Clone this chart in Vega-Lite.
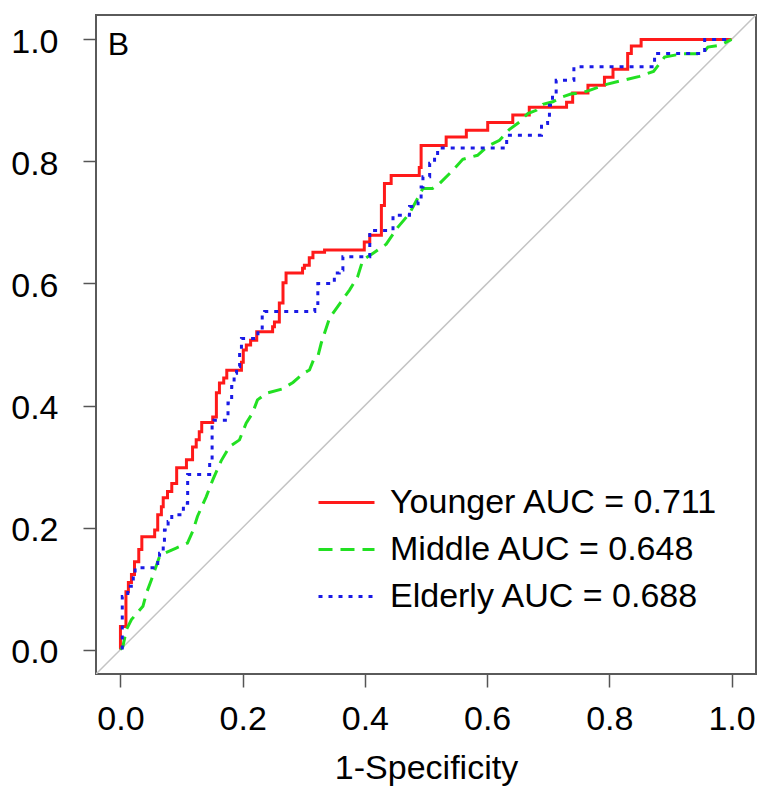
{
  "$schema": "https://vega.github.io/schema/vega-lite/v6.json",
  "width": 660,
  "height": 659,
  "autosize": {"type": "none"},
  "padding": {"left": 96, "top": 15, "right": 4, "bottom": 115},
  "background": "white",
  "config": {
    "view": {"stroke": "#5a5a5a", "strokeWidth": 2},
    "font": "Liberation Sans"
  },
  "datasets": {
    "groups": [
      {"g": "Y", "name": "Younger AUC = 0.711"},
      {"g": "M", "name": "Middle AUC = 0.648"},
      {"g": "E", "name": "Elderly AUC = 0.688"}
    ],
    "diag": [{"x": -0.1, "y": -0.1}, {"x": 1.1, "y": 1.1}],
    "panel": [{"label": "B"}],
    "roc": [
      {"g":"Y","x":0,"y":0},{"g":"Y","x":0,"y":0.038},{"g":"Y","x":0.009,"y":0.038},{"g":"Y","x":0.009,"y":0.095},{"g":"Y","x":0.013,"y":0.095},{"g":"Y","x":0.013,"y":0.11},{"g":"Y","x":0.018,"y":0.11},{"g":"Y","x":0.018,"y":0.123},{"g":"Y","x":0.023,"y":0.123},{"g":"Y","x":0.023,"y":0.144},{"g":"Y","x":0.03,"y":0.144},{"g":"Y","x":0.03,"y":0.164},{"g":"Y","x":0.035,"y":0.164},{"g":"Y","x":0.035,"y":0.185},{"g":"Y","x":0.056,"y":0.185},{"g":"Y","x":0.056,"y":0.196},{"g":"Y","x":0.061,"y":0.196},{"g":"Y","x":0.061,"y":0.221},{"g":"Y","x":0.067,"y":0.221},{"g":"Y","x":0.067,"y":0.234},{"g":"Y","x":0.07,"y":0.234},{"g":"Y","x":0.07,"y":0.249},{"g":"Y","x":0.077,"y":0.249},{"g":"Y","x":0.077,"y":0.259},{"g":"Y","x":0.084,"y":0.259},{"g":"Y","x":0.084,"y":0.272},{"g":"Y","x":0.092,"y":0.272},{"g":"Y","x":0.092,"y":0.298},{"g":"Y","x":0.108,"y":0.298},{"g":"Y","x":0.108,"y":0.311},{"g":"Y","x":0.118,"y":0.311},{"g":"Y","x":0.118,"y":0.332},{"g":"Y","x":0.124,"y":0.332},{"g":"Y","x":0.124,"y":0.344},{"g":"Y","x":0.129,"y":0.344},{"g":"Y","x":0.129,"y":0.357},{"g":"Y","x":0.133,"y":0.357},{"g":"Y","x":0.133,"y":0.372},{"g":"Y","x":0.151,"y":0.372},{"g":"Y","x":0.151,"y":0.381},{"g":"Y","x":0.157,"y":0.381},{"g":"Y","x":0.157,"y":0.421},{"g":"Y","x":0.162,"y":0.421},{"g":"Y","x":0.162,"y":0.437},{"g":"Y","x":0.169,"y":0.437},{"g":"Y","x":0.169,"y":0.445},{"g":"Y","x":0.174,"y":0.445},{"g":"Y","x":0.174,"y":0.458},{"g":"Y","x":0.198,"y":0.458},{"g":"Y","x":0.198,"y":0.471},{"g":"Y","x":0.201,"y":0.471},{"g":"Y","x":0.201,"y":0.491},{"g":"Y","x":0.206,"y":0.491},{"g":"Y","x":0.206,"y":0.499},{"g":"Y","x":0.213,"y":0.499},{"g":"Y","x":0.213,"y":0.507},{"g":"Y","x":0.223,"y":0.507},{"g":"Y","x":0.223,"y":0.521},{"g":"Y","x":0.249,"y":0.521},{"g":"Y","x":0.249,"y":0.529},{"g":"Y","x":0.252,"y":0.529},{"g":"Y","x":0.252,"y":0.537},{"g":"Y","x":0.26,"y":0.537},{"g":"Y","x":0.26,"y":0.568},{"g":"Y","x":0.266,"y":0.568},{"g":"Y","x":0.266,"y":0.601},{"g":"Y","x":0.271,"y":0.601},{"g":"Y","x":0.271,"y":0.617},{"g":"Y","x":0.298,"y":0.617},{"g":"Y","x":0.298,"y":0.625},{"g":"Y","x":0.301,"y":0.625},{"g":"Y","x":0.301,"y":0.63},{"g":"Y","x":0.309,"y":0.63},{"g":"Y","x":0.309,"y":0.642},{"g":"Y","x":0.315,"y":0.642},{"g":"Y","x":0.315,"y":0.651},{"g":"Y","x":0.334,"y":0.651},{"g":"Y","x":0.334,"y":0.655},{"g":"Y","x":0.399,"y":0.655},{"g":"Y","x":0.399,"y":0.668},{"g":"Y","x":0.408,"y":0.668},{"g":"Y","x":0.408,"y":0.679},{"g":"Y","x":0.427,"y":0.679},{"g":"Y","x":0.427,"y":0.728},{"g":"Y","x":0.432,"y":0.728},{"g":"Y","x":0.432,"y":0.764},{"g":"Y","x":0.443,"y":0.764},{"g":"Y","x":0.443,"y":0.777},{"g":"Y","x":0.489,"y":0.777},{"g":"Y","x":0.489,"y":0.79},{"g":"Y","x":0.492,"y":0.79},{"g":"Y","x":0.492,"y":0.826},{"g":"Y","x":0.533,"y":0.826},{"g":"Y","x":0.533,"y":0.84},{"g":"Y","x":0.566,"y":0.84},{"g":"Y","x":0.566,"y":0.851},{"g":"Y","x":0.601,"y":0.851},{"g":"Y","x":0.601,"y":0.864},{"g":"Y","x":0.642,"y":0.864},{"g":"Y","x":0.642,"y":0.876},{"g":"Y","x":0.669,"y":0.876},{"g":"Y","x":0.669,"y":0.889},{"g":"Y","x":0.73,"y":0.889},{"g":"Y","x":0.73,"y":0.897},{"g":"Y","x":0.74,"y":0.897},{"g":"Y","x":0.74,"y":0.912},{"g":"Y","x":0.765,"y":0.912},{"g":"Y","x":0.765,"y":0.925},{"g":"Y","x":0.792,"y":0.925},{"g":"Y","x":0.792,"y":0.938},{"g":"Y","x":0.806,"y":0.938},{"g":"Y","x":0.806,"y":0.951},{"g":"Y","x":0.83,"y":0.951},{"g":"Y","x":0.83,"y":0.977},{"g":"Y","x":0.836,"y":0.977},{"g":"Y","x":0.836,"y":0.989},{"g":"Y","x":0.852,"y":0.989},{"g":"Y","x":0.852,"y":1},{"g":"Y","x":1,"y":1},
      {"g":"M","x":0,"y":0},{"g":"M","x":0.004,"y":0.005},{"g":"M","x":0.0098,"y":0.0327},{"g":"M","x":0.018,"y":0.0491},{"g":"M","x":0.0368,"y":0.0709},{"g":"M","x":0.0426,"y":0.0928},{"g":"M","x":0.0507,"y":0.1146},{"g":"M","x":0.0638,"y":0.1522},{"g":"M","x":0.0725,"y":0.1583},{"g":"M","x":0.0912,"y":0.1664},{"g":"M","x":0.1097,"y":0.1746},{"g":"M","x":0.1187,"y":0.1948},{"g":"M","x":0.126,"y":0.2182},{"g":"M","x":0.1403,"y":0.2504},{"g":"M","x":0.1511,"y":0.2782},{"g":"M","x":0.1648,"y":0.3093},{"g":"M","x":0.1784,"y":0.3327},{"g":"M","x":0.1948,"y":0.3437},{"g":"M","x":0.2057,"y":0.371},{"g":"M","x":0.216,"y":0.3874},{"g":"M","x":0.2242,"y":0.4092},{"g":"M","x":0.239,"y":0.4201},{"g":"M","x":0.2651,"y":0.4272},{"g":"M","x":0.2823,"y":0.4378},{"g":"M","x":0.2995,"y":0.4529},{"g":"M","x":0.3093,"y":0.4583},{"g":"M","x":0.3159,"y":0.4746},{"g":"M","x":0.3229,"y":0.48},{"g":"M","x":0.3285,"y":0.502},{"g":"M","x":0.3421,"y":0.5434},{"g":"M","x":0.3584,"y":0.5663},{"g":"M","x":0.3748,"y":0.5892},{"g":"M","x":0.3879,"y":0.6105},{"g":"M","x":0.3966,"y":0.6383},{"g":"M","x":0.4129,"y":0.6493},{"g":"M","x":0.4349,"y":0.6645},{"g":"M","x":0.4534,"y":0.6915},{"g":"M","x":0.473,"y":0.7147},{"g":"M","x":0.4861,"y":0.7393},{"g":"M","x":0.4948,"y":0.7556},{"g":"M","x":0.5106,"y":0.7556},{"g":"M","x":0.5221,"y":0.7638},{"g":"M","x":0.5439,"y":0.7856},{"g":"M","x":0.5602,"y":0.8036},{"g":"M","x":0.5843,"y":0.8101},{"g":"M","x":0.6007,"y":0.8249},{"g":"M","x":0.6203,"y":0.8347},{"g":"M","x":0.6367,"y":0.8527},{"g":"M","x":0.653,"y":0.8647},{"g":"M","x":0.6666,"y":0.8784},{"g":"M","x":0.6804,"y":0.8838},{"g":"M","x":0.6912,"y":0.8936},{"g":"M","x":0.7075,"y":0.8977},{"g":"M","x":0.7213,"y":0.9051},{"g":"M","x":0.7381,"y":0.9108},{"g":"M","x":0.7512,"y":0.9116},{"g":"M","x":0.7676,"y":0.9165},{"g":"M","x":0.7954,"y":0.9264},{"g":"M","x":0.8221,"y":0.9329},{"g":"M","x":0.8494,"y":0.9394},{"g":"M","x":0.8723,"y":0.9476},{"g":"M","x":0.8822,"y":0.9602},{"g":"M","x":0.8903,"y":0.971},{"g":"M","x":0.9198,"y":0.9766},{"g":"M","x":0.9525,"y":0.9766},{"g":"M","x":0.9612,"y":0.9874},{"g":"M","x":0.9804,"y":0.9902},{"g":"M","x":1,"y":1},
      {"g":"E","x":0.003,"y":0},{"g":"E","x":0.003,"y":0.087},{"g":"E","x":0.012,"y":0.087},{"g":"E","x":0.012,"y":0.104},{"g":"E","x":0.021,"y":0.104},{"g":"E","x":0.021,"y":0.12},{"g":"E","x":0.024,"y":0.12},{"g":"E","x":0.024,"y":0.134},{"g":"E","x":0.061,"y":0.134},{"g":"E","x":0.061,"y":0.147},{"g":"E","x":0.064,"y":0.147},{"g":"E","x":0.064,"y":0.158},{"g":"E","x":0.07,"y":0.158},{"g":"E","x":0.07,"y":0.169},{"g":"E","x":0.072,"y":0.169},{"g":"E","x":0.072,"y":0.196},{"g":"E","x":0.078,"y":0.196},{"g":"E","x":0.078,"y":0.21},{"g":"E","x":0.084,"y":0.21},{"g":"E","x":0.084,"y":0.221},{"g":"E","x":0.103,"y":0.221},{"g":"E","x":0.103,"y":0.24},{"g":"E","x":0.11,"y":0.24},{"g":"E","x":0.11,"y":0.287},{"g":"E","x":0.146,"y":0.287},{"g":"E","x":0.146,"y":0.306},{"g":"E","x":0.15,"y":0.306},{"g":"E","x":0.15,"y":0.371},{"g":"E","x":0.153,"y":0.371},{"g":"E","x":0.153,"y":0.376},{"g":"E","x":0.176,"y":0.376},{"g":"E","x":0.176,"y":0.404},{"g":"E","x":0.182,"y":0.404},{"g":"E","x":0.182,"y":0.431},{"g":"E","x":0.186,"y":0.431},{"g":"E","x":0.186,"y":0.453},{"g":"E","x":0.19,"y":0.453},{"g":"E","x":0.19,"y":0.464},{"g":"E","x":0.195,"y":0.464},{"g":"E","x":0.195,"y":0.491},{"g":"E","x":0.198,"y":0.491},{"g":"E","x":0.198,"y":0.51},{"g":"E","x":0.225,"y":0.51},{"g":"E","x":0.225,"y":0.527},{"g":"E","x":0.232,"y":0.527},{"g":"E","x":0.232,"y":0.551},{"g":"E","x":0.236,"y":0.551},{"g":"E","x":0.236,"y":0.554},{"g":"E","x":0.318,"y":0.554},{"g":"E","x":0.318,"y":0.567},{"g":"E","x":0.323,"y":0.567},{"g":"E","x":0.323,"y":0.6},{"g":"E","x":0.35,"y":0.6},{"g":"E","x":0.35,"y":0.617},{"g":"E","x":0.358,"y":0.617},{"g":"E","x":0.358,"y":0.622},{"g":"E","x":0.364,"y":0.622},{"g":"E","x":0.364,"y":0.644},{"g":"E","x":0.408,"y":0.644},{"g":"E","x":0.408,"y":0.687},{"g":"E","x":0.446,"y":0.687},{"g":"E","x":0.446,"y":0.712},{"g":"E","x":0.473,"y":0.712},{"g":"E","x":0.473,"y":0.726},{"g":"E","x":0.487,"y":0.726},{"g":"E","x":0.487,"y":0.734},{"g":"E","x":0.492,"y":0.734},{"g":"E","x":0.492,"y":0.758},{"g":"E","x":0.495,"y":0.758},{"g":"E","x":0.495,"y":0.775},{"g":"E","x":0.506,"y":0.775},{"g":"E","x":0.506,"y":0.797},{"g":"E","x":0.514,"y":0.797},{"g":"E","x":0.514,"y":0.807},{"g":"E","x":0.519,"y":0.807},{"g":"E","x":0.519,"y":0.822},{"g":"E","x":0.632,"y":0.822},{"g":"E","x":0.632,"y":0.843},{"g":"E","x":0.689,"y":0.843},{"g":"E","x":0.689,"y":0.862},{"g":"E","x":0.699,"y":0.862},{"g":"E","x":0.699,"y":0.867},{"g":"E","x":0.702,"y":0.867},{"g":"E","x":0.702,"y":0.892},{"g":"E","x":0.707,"y":0.892},{"g":"E","x":0.707,"y":0.908},{"g":"E","x":0.713,"y":0.908},{"g":"E","x":0.713,"y":0.933},{"g":"E","x":0.742,"y":0.933},{"g":"E","x":0.742,"y":0.955},{"g":"E","x":0.874,"y":0.955},{"g":"E","x":0.874,"y":0.977},{"g":"E","x":0.956,"y":0.977},{"g":"E","x":0.956,"y":1},{"g":"E","x":1,"y":1}
    ]
  },
  "layer": [
    {
      "data": {"name": "diag"},
      "mark": {"type": "line", "color": "#c4c4c4", "strokeWidth": 1.5, "clip": true},
      "encoding": {
        "x": {"field": "x", "type": "quantitative", "scale": {"domain": [-0.04, 1.04], "nice": false, "zero": false},
          "axis": {"title": "1-Specificity", "values": [0, 0.2, 0.4, 0.6, 0.8, 1], "format": ".1f", "domain": false, "grid": false,
            "tickSize": 13, "tickWidth": 1.5, "tickColor": "#555555", "labelFontSize": 34, "labelColor": "black", "labelPadding": 15,
            "labelFont": "Liberation Sans", "titleFont": "Liberation Sans", "titleFontSize": 34, "titleFontWeight": "normal", "titleColor": "black", "titlePadding": 15}},
        "y": {"field": "y", "type": "quantitative", "scale": {"domain": [-0.04, 1.04], "nice": false, "zero": false},
          "axis": {"title": null, "values": [0, 0.2, 0.4, 0.6, 0.8, 1], "format": ".1f", "domain": false, "grid": false,
            "tickSize": 13, "tickWidth": 1.5, "tickColor": "#555555", "labelFontSize": 34, "labelColor": "black", "labelPadding": 25,
            "labelFont": "Liberation Sans", "labelOffset": 3}}
      }
    },
    {
      "data": {"name": "roc"},
      "transform": [{"lookup": "g", "from": {"data": {"name": "groups"}, "key": "g", "fields": ["name"]}}],
      "mark": {"type": "line", "strokeWidth": 3, "strokeCap": "butt", "clip": true},
      "encoding": {
        "x": {"field": "x", "type": "quantitative"},
        "y": {"field": "y", "type": "quantitative"},
        "order": {"value": null},
        "color": {"field": "name", "type": "nominal",
          "sort": ["Younger AUC = 0.711", "Middle AUC = 0.648", "Elderly AUC = 0.688"],
          "scale": {"domain": ["Younger AUC = 0.711", "Middle AUC = 0.648", "Elderly AUC = 0.688"], "range": ["#ff1a1a", "#22e022", "#1a1ae6"]},
          "legend": {"title": null, "orient": "none", "legendX": 221, "legendY": 458, "symbolType": "stroke", "symbolSize": 3136,
            "symbolStrokeWidth": 3, "labelFontSize": 34, "labelFont": "Liberation Sans", "labelColor": "black", "labelOffset": 14,
            "rowPadding": -17, "padding": 0, "labelLimit": 500}},
        "strokeDash": {"field": "name", "type": "nominal",
          "sort": ["Younger AUC = 0.711", "Middle AUC = 0.648", "Elderly AUC = 0.688"],
          "scale": {"domain": ["Younger AUC = 0.711", "Middle AUC = 0.648", "Elderly AUC = 0.688"], "range": [[1, 0], [14, 8], [4, 6]]},
          "legend": {"title": null, "orient": "none", "legendX": 221, "legendY": 458, "symbolType": "stroke", "symbolSize": 3136,
            "symbolStrokeWidth": 3, "labelFontSize": 34, "labelFont": "Liberation Sans", "labelColor": "black", "labelOffset": 14,
            "rowPadding": -17, "padding": 0, "labelLimit": 500}}
      }
    },
    {
      "data": {"name": "panel"},
      "mark": {"type": "text", "fontSize": 32, "font": "Liberation Sans", "color": "black", "align": "center", "baseline": "middle", "dx": -2, "dy": 6},
      "encoding": {
        "text": {"field": "label"},
        "x": {"datum": 0, "type": "quantitative"},
        "y": {"datum": 1, "type": "quantitative"}
      }
    }
  ]
}
